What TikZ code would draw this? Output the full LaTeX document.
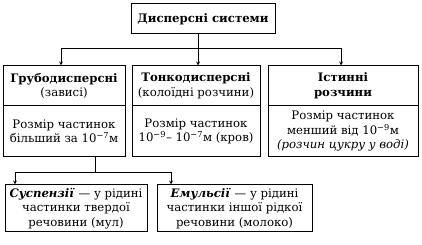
\documentclass[tikz,border=0pt]{standalone}
\usepackage{fontspec}
\setmainfont{DejaVu Serif}
\usetikzlibrary{positioning}

\tikzset{
  box/.style={draw, line width=1pt, align=center, inner sep=0pt,
    font=\fontsize{11.7}{14.5}\selectfont},
  link/.style={line width=0.8pt}
}

\begin{document}
\begin{tikzpicture}[x=1pt, y=1pt, >=stealth]
    \useasboundingbox (0,0) rectangle (422,245);
    % верхній блок
    \node[box, minimum width=144, minimum height=30] (disp) at (203,226) {\textbf{Дисперсні системи}};

    % три види систем
    \node[box, minimum width=122, minimum height=40] (grubHead) at (64,159) {\textbf{Грубодисперсні}\\(зависі)};
    \node[box, minimum width=122, minimum height=51] (grubBody) at (64,113.5) {Розмір частинок\\більший за 10\textsuperscript{−7}м};
    \node[box, minimum width=128, minimum height=40] (tonHead) at (196,159) {\textbf{Тонкодисперсні}\\(колоїдні розчини)};
    \node[box, minimum width=128, minimum height=51] (tonBody) at (196,113.5) {Розмір частинок\\10\textsuperscript{−9}– 10\textsuperscript{−7}м (кров)};
    \node[box, minimum width=150, minimum height=40] (istHead) at (343,159) {\textbf{Істинні}\\\textbf{розчини}};
    \node[box, minimum width=150, minimum height=51] (istBody) at (343,113.5) {Розмір частинок\\менший від 10\textsuperscript{−9}м\\\textit{(розчин цукру у воді)}};

    % грубодисперсні поділяються
    \node[box, minimum width=142, minimum height=47] (susp) at (76,36.5) {\textbf{\textit{Суспензії}} — у рідині\\частинки твердої\\речовини (мул)};
    \node[box, minimum width=155, minimum height=47] (emul) at (234.5,36.5) {\textbf{\textit{Емульсії}} — у рідині\\частинки іншої рідкої\\речовини (молоко)};

    % з'єднання
    \coordinate (split) at (198,197);
    \coordinate (splitL) at (61,197);
    \coordinate (splitR) at (341,197);
    \draw[link] (disp.south -| split) -- (split);
    \draw[link] (splitL) -- (splitR);
    \draw[link, ->] (splitL) -- (splitL |- grubHead.north);
    \draw[link, ->] (split) -- (split |- tonHead.north);
    \draw[link, ->] (splitR) -- (splitR |- istHead.north);

    \coordinate (fork) at (95,73);
    \coordinate (forkL) at (15,73);
    \coordinate (forkR) at (171,73);
    \draw[link] (grubBody.south -| fork) -- (fork);
    \draw[link] (forkL) -- (forkR);
    \draw[link, ->] (forkL) -- (forkL |- susp.north);
    \draw[link, ->] (forkR) -- (forkR |- emul.north);
\end{tikzpicture}
\end{document}
